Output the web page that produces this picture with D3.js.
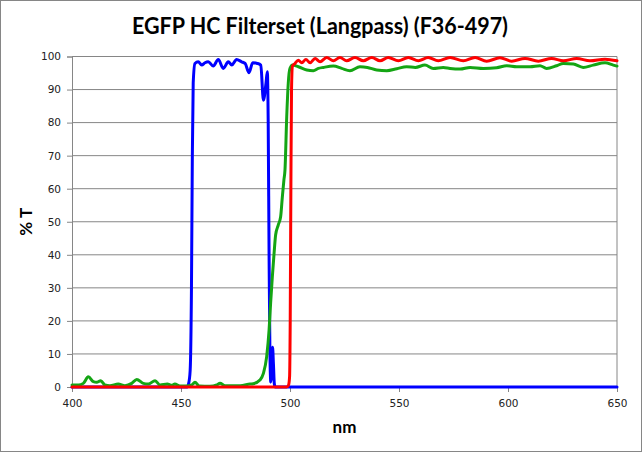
<!DOCTYPE html>
<html lang="en">
<head>
<meta charset="UTF-8">
<title>EGFP HC Filterset (Langpass) (F36-497)</title>
<script src="https://d3js.org/d3.v7.min.js"></script>
<style>
  html, body { margin: 0; padding: 0; background: #fff; }
  svg { display: block; }
</style>
</head>
<body>
<svg width="642" height="452"></svg>
<script>
// Excitation (blue)
const blueNm = [400, 452.8, 453.5, 454.2, 454.8, 455.2, 455.6, 456.4, 457.9, 459.5, 461.0, 462.5, 464.8, 467.1, 469.4,
  471.7, 473.3, 475.5, 477.8, 479.4, 481.2, 482.9, 485.0, 486.6, 487.8, 489.0, 489.6, 490.0, 490.4, 490.8, 491.2,
  491.6, 492.0, 492.4, 492.8, 493.2, 650];
const blueT = [0, 0, 1, 5, 30, 70, 92, 97.9, 98.4, 97.4, 98.1, 98.4, 97.1, 99.1, 96.4,
  98.4, 97.4, 99.1, 98.4, 97.9, 95.1, 98.1, 97.9, 97.4, 86.8, 92, 95.4, 80, 40, 10, 1.5,
  4, 12, 7, 1, 0, 0];

// Emission (green)
const greenNm = [400, 403, 405.2, 407.5, 409.8, 411.3, 413.2, 415.1, 417.4, 421.2, 424.3, 427.4, 429.7, 432.7, 435,
  438.1, 440.4, 443.7, 445.7, 447.2, 449.5, 452.6, 454.9, 456.4, 458.4, 463.3, 466.4, 467.9, 470.2, 477.1, 481.7,
  483.2, 486.2, 487.8, 489.3, 490.4, 491.1, 491.9, 492.7, 493.4, 494.6, 495.7, 496.5, 497.2, 497.7, 498.5, 499.2,
  500.0, 501.2, 503.8, 507.7, 510.7, 513.0, 515.3, 519.9, 523.7, 527.5, 532.1, 535.5, 539.8, 544.4, 549, 553.5,
  557.5, 561.9, 565.7, 570.3, 573.4, 578.0, 582.6, 588.7, 594.8, 599.4, 604.0, 610.1, 614.7, 617.7, 622.3, 625.4,
  630.0, 634.5, 639.1, 644.5, 648.3, 650];
const greenT = [0.6, 0.6, 1.1, 3.1, 1.6, 1.4, 1.9, 0.6, 0.4, 0.9, 0.4, 1.1, 2.3, 1.1, 0.9,
  1.9, 0.6, 0.9, 0.5, 0.9, 0.3, 0.3, 0.6, 1.4, 0.3, 0.2, 0.6, 1.1, 0.4, 0.4, 0.9,
  1.0, 2.1, 4.1, 9.2, 17.2, 25.3, 33.4, 40.5, 46.0, 49.0, 51.5, 57.6, 62.6, 65.7, 81.8, 91.9,
  96.4, 97.4, 96.9, 95.9, 95.7, 96.4, 96.7, 97.1, 96.4, 95.7, 96.9, 96.7, 95.9, 95.7, 96.3, 96.9,
  96.7, 97.4, 96.4, 96.7, 96.4, 96.2, 96.7, 96.4, 96.6, 97.2, 96.9, 96.9, 97.2, 96.4, 97.2, 97.9,
  97.7, 96.7, 97.4, 98.1, 97.4, 97.1];

// Dichroic (red)
const redNm = [400, 498.5, 499.3, 499.8, 500.1, 500.4, 500.7, 501.1, 502.3, 503.8, 505.4, 507.3, 509.2, 511.5, 513.8,
  516.8, 519.9, 522.9, 526.0, 529.8, 533.6, 537.5, 541.3, 545.1, 549.7, 554.3, 558.9, 563.4, 568.0, 573.4,
  579.5, 584.9, 590.2, 596.3, 601.7, 607.8, 613.9, 620.0, 625.4, 631.5, 637.6, 644.5, 650];
const redT = [0, 0, 0.5, 3, 20, 60, 90, 97, 97.9, 98.9, 98.1, 99.1, 98.1, 99.4, 98.4,
  99.7, 98.7, 99.7, 98.7, 99.7, 98.7, 99.7, 98.7, 99.7, 98.7, 99.7, 98.7, 99.7, 98.7, 99.7,
  98.7, 99.7, 98.6, 99.6, 98.6, 99.4, 98.6, 99.4, 98.7, 99.4, 98.7, 99.2, 98.7];

const xTicks = [400, 450, 500, 550, 600, 650];
const yTicks = [0, 10, 20, 30, 40, 50, 60, 70, 80, 90, 100];

const svg = d3.select("svg");
const W = 642, H = 452;
const margin = { top: 56.5, right: 25, bottom: 65, left: 72 };
const grey = "#868686";

// chart border
svg.append("rect")
  .attr("x", 0.5).attr("y", 0.5)
  .attr("width", W - 1).attr("height", H - 1)
  .attr("fill", "#fff").attr("stroke", grey);

const x = d3.scaleLinear().domain([400, 650]).range([margin.left, W - margin.right]);
const y = d3.scaleLinear().domain([0, 100]).range([H - margin.bottom, margin.top]);

// gridlines
svg.append("g")
  .selectAll("line")
  .data(yTicks)
  .join("line")
  .attr("x1", x(400)).attr("x2", x(650))
  .attr("y1", d => y(d)).attr("y2", d => y(d))
  .attr("stroke", grey).attr("stroke-width", 1);

// right border of plot area
svg.append("line")
  .attr("x1", x(650)).attr("x2", x(650))
  .attr("y1", y(0)).attr("y2", y(100))
  .attr("stroke", grey);

const yAxis = svg.append("g")
  .attr("transform", `translate(${x(400)},0)`)
  .call(d3.axisLeft(y).tickValues(yTicks).tickSize(5).tickPadding(6));

const xAxis = svg.append("g")
  .attr("transform", `translate(0,${y(0)})`)
  .call(d3.axisBottom(x).tickValues(xTicks).tickSize(5).tickPadding(8));

[xAxis, yAxis].forEach(a => {
  a.select(".domain").attr("stroke", grey);
  a.selectAll(".tick line").attr("stroke", grey);
  a.selectAll(".tick text")
    .attr("fill", "#222")
    .style("font-family", "DejaVu Sans, Verdana, sans-serif")
    .style("font-size", "10.5px");
});

const line = d3.line()
  .x(d => x(d[0]))
  .y(d => y(d[1]))
  .curve(d3.curveMonotoneX);

const series = [
  { nm: blueNm, t: blueT, color: "#0000ff" },
  { nm: greenNm, t: greenT, color: "#14a514" },
  { nm: redNm, t: redT, color: "#ff0000" }
];

series.forEach(s => {
  svg.append("path")
    .datum(s.nm.map((n, i) => [n, s.t[i]]))
    .attr("d", line)
    .attr("fill", "none")
    .attr("stroke", s.color)
    .attr("stroke-width", 3)
    .attr("stroke-linejoin", "round")
    .attr("stroke-linecap", "round");
});

// title
svg.append("text")
  .attr("x", 320)
  .attr("y", 34)
  .attr("text-anchor", "middle")
  .attr("textLength", 376)
  .attr("lengthAdjust", "spacingAndGlyphs")
  .style("font-family", "Lato, 'Open Sans', sans-serif")
  .style("font-weight", "bold")
  .style("font-size", "22px")
  .text("EGFP HC Filterset (Langpass) (F36-497)");

// axis titles
svg.append("text")
  .attr("x", (x(400) + x(650)) / 2)
  .attr("y", 433)
  .attr("text-anchor", "middle")
  .style("font-family", "Lato, sans-serif")
  .style("font-weight", "bold")
  .style("font-size", "17px")
  .text("nm");

svg.append("text")
  .attr("transform", `translate(32,${(y(0) + y(100)) / 2}) rotate(-90)`)
  .attr("text-anchor", "middle")
  .style("font-family", "Lato, sans-serif")
  .style("font-weight", "bold")
  .style("font-size", "17px")
  .text("% T");
</script>
</body>
</html>
